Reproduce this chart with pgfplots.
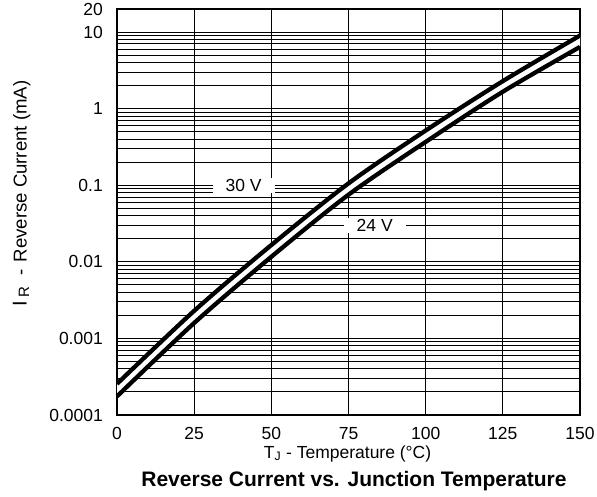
\documentclass[border=0pt]{standalone}
\usepackage{fontspec}
\setmainfont{Liberation Sans}
\usepackage{pgfplots}
\pgfplotsset{compat=1.18}
\usepgfplotslibrary{fillbetween}
\begin{document}
\fontsize{17.5bp}{21bp}\selectfont
\begin{tikzpicture}
\begin{axis}[
  at={(0,0)}, anchor=south west,
  set layers,
  width=463bp, height=406bp, scale only axis,
  xmin=0, xmax=150, ymin=0.0001, ymax=20, ymode=log,
  xtick={0,25,50,75,100,125,150},
  ytick={0.0001,0.001,0.01,0.1,1,10,20},
  yticklabels={0.0001,0.001,0.01,0.1,1,10,20},
  minor ytick={0.0002,0.0003,0.0004,0.0005,0.0006,0.0007,0.0008,0.0009,
               0.002,0.003,0.004,0.005,0.006,0.007,0.008,0.009,
               0.02,0.03,0.04,0.05,0.06,0.07,0.08,0.09,
               0.2,0.3,0.4,0.5,0.6,0.7,0.8,0.9,
               2,3,4,5,6,7,8,9},
  grid=both,
  major grid style={black, line width=0.9bp},
  minor grid style={black, line width=0.9bp},
  axis line style={black, line width=2.2bp},
  major tick length=0pt, minor tick length=0pt,
  /pgf/number format/assume math mode=true,
  every tick label/.append style={inner sep=0pt, font=\fontsize{17.5bp}{21bp}\selectfont},
  xticklabel shift=12bp,
  yticklabel shift=14bp,
  xlabel={T\textsubscript{J} - Temperature (°C)},
  xlabel style={at={(axis description cs:0.498,-0.106)}, anchor=base, inner sep=0pt},
  ylabel={{\fontsize{20bp}{24bp}\selectfont I}\hspace{4bp}\raisebox{-2.5bp}{\fontsize{15bp}{18bp}\selectfont R}\hspace{11bp}-\hspace{7bp}Reverse Current (mA)},
  ylabel style={at={(axis description cs:-0.206,0.545)}, anchor=center, inner sep=0pt, font=\fontsize{18.6bp}{22bp}\selectfont},
]
\addplot[black, line width=4.3bp, smooth, name path=A] coordinates {
  (0,0.000255) (25,0.00229) (50,0.01656) (75,0.1057) (100,0.5176) (125,2.286) (150,9.0)};
\addplot[black, line width=4.3bp, smooth, name path=B] coordinates {
  (0,0.000175) (25,0.00159) (50,0.01164) (75,0.0752) (100,0.368) (125,1.663) (150,6.4)};
\addplot[white] fill between[of=A and B];
\node[fill=white, inner xsep=13bp, inner ysep=1.5bp] at (axis cs:41,0.1) {30 V};
\node[fill=white, inner xsep=13bp, inner ysep=1.5bp] at (axis cs:83.5,0.03) {24 V};
\end{axis}
\node[anchor=base, inner sep=0pt, font=\fontsize{21bp}{25bp}\selectfont\bfseries] at (237bp,-71bp) {Reverse Current vs. Junction Temperature};
\pgfresetboundingbox
\path[use as bounding box] (-117bp,-82bp) rectangle (480bp,415bp);
\end{tikzpicture}
\end{document}
